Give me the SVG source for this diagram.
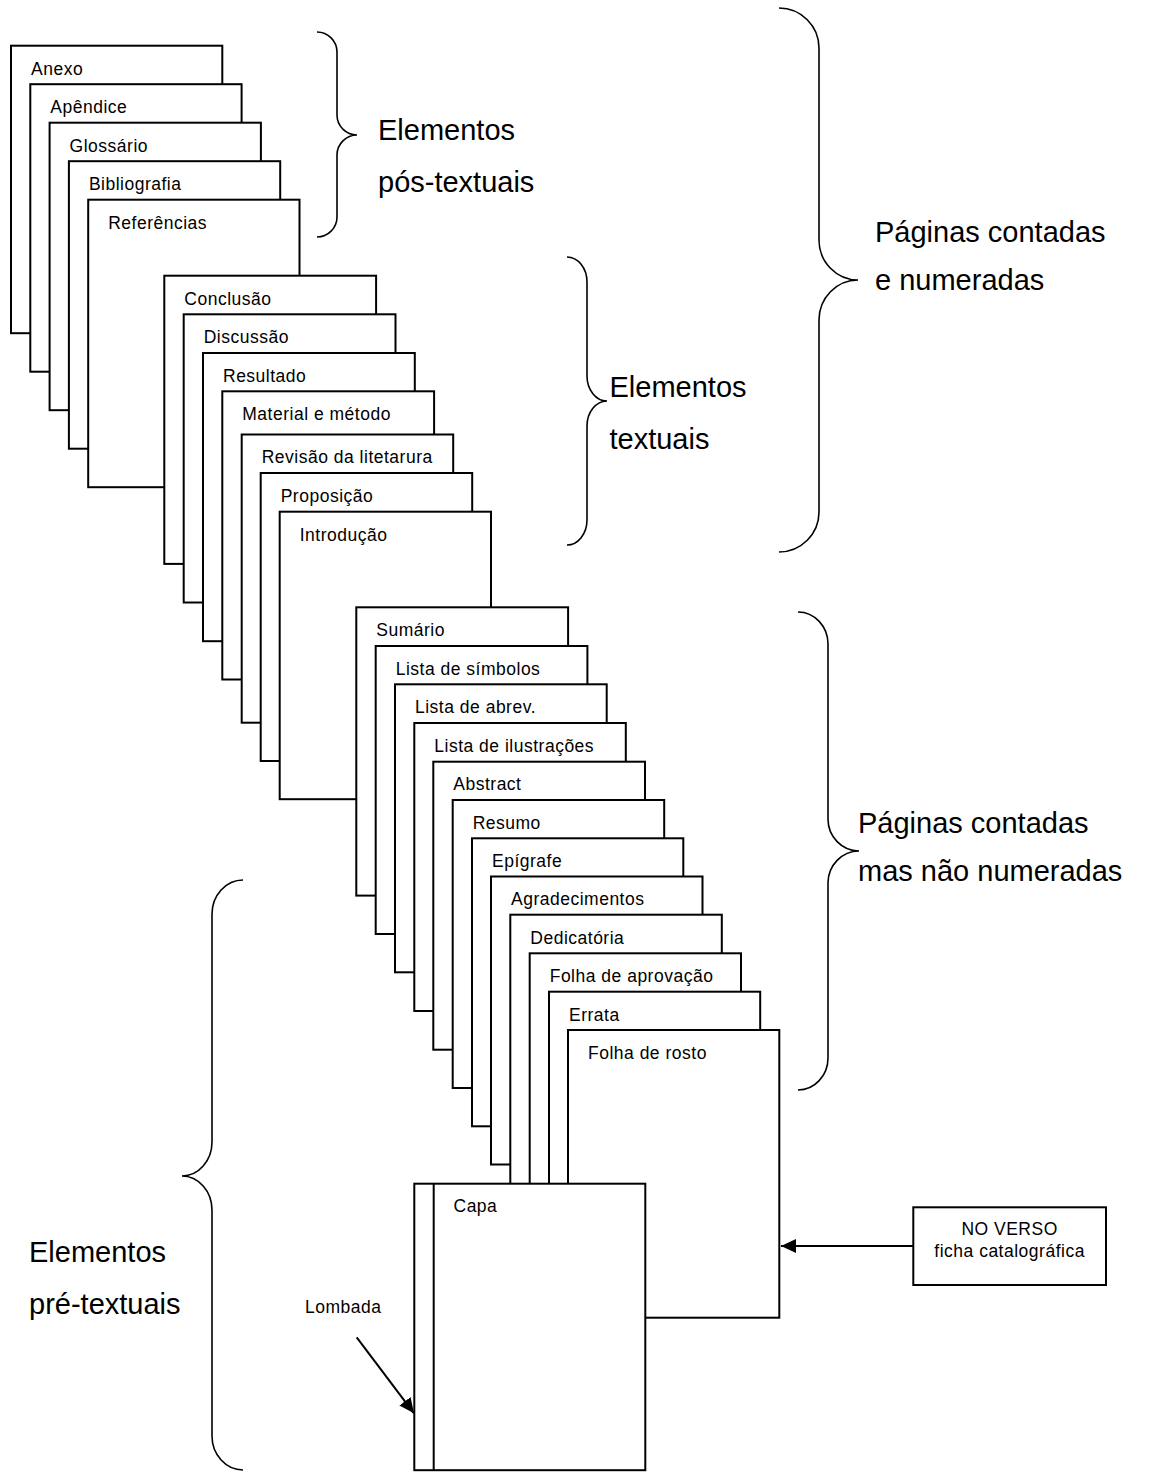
<svg xmlns="http://www.w3.org/2000/svg" width="1149" height="1472" viewBox="0 0 1149 1472">
<style>
.pg{fill:#fff;stroke:#000;stroke-width:2}
.lb{font-family:"Liberation Sans",Arial,Helvetica,sans-serif;font-size:17.5px;letter-spacing:0.5px;fill:#000}
.big{font-family:"Liberation Sans",Arial,Helvetica,sans-serif;font-size:29px;fill:#000}
.br{fill:none;stroke:#000;stroke-width:1.6}
.cn{fill:none;stroke:#000;stroke-width:2}
</style>
<defs>
<marker id="ah" markerUnits="userSpaceOnUse" markerWidth="16" markerHeight="14" refX="15" refY="7" orient="auto">
<path d="M0,0 L15,7 L0,14 z" fill="#000"/>
</marker>
</defs>
<rect width="1149" height="1472" fill="#fff"/>

<g id="anexo"><rect class="pg" x="11" y="45.7" width="211.3" height="287.5"/><text class="lb" x="31" y="74.5">Anexo</text></g>
<g id="apendice"><rect class="pg" x="30.3" y="84.2" width="211.3" height="287.5"/><text class="lb" x="50.3" y="113">Apêndice</text></g>
<g id="glossario"><rect class="pg" x="49.6" y="122.7" width="211.3" height="287.5"/><text class="lb" x="69.6" y="151.5">Glossário</text></g>
<g id="bibliografia"><rect class="pg" x="68.9" y="161.2" width="211.3" height="287.5"/><text class="lb" x="88.9" y="190">Bibliografia</text></g>
<g id="referencias"><rect class="pg" x="88.2" y="199.7" width="211.3" height="287.5"/><text class="lb" x="108.2" y="228.5">Referências</text></g>

<g id="conclusao"><rect class="pg" x="164.3" y="275.7" width="211.8" height="288.2"/><text class="lb" x="184.3" y="304.5">Conclusão</text></g>
<g id="discussao"><rect class="pg" x="183.7" y="314.3" width="211.8" height="288.2"/><text class="lb" x="203.7" y="343">Discussão</text></g>
<g id="resultado"><rect class="pg" x="203" y="353" width="211.8" height="288.2"/><text class="lb" x="223" y="381.8">Resultado</text></g>
<g id="material"><rect class="pg" x="222.3" y="391.3" width="211.8" height="288.2"/><text class="lb" x="242.3" y="420">Material e método</text></g>
<g id="revisao"><rect class="pg" x="241.7" y="434.5" width="211.5" height="288.2"/><text class="lb" x="261.7" y="463.2">Revisão da litetarura</text></g>
<g id="proposicao"><rect class="pg" x="260.7" y="473" width="211.5" height="288"/><text class="lb" x="280.7" y="501.8">Proposição</text></g>
<g id="introducao"><rect class="pg" x="279.7" y="511.7" width="211.3" height="287.5"/><text class="lb" x="299.7" y="540.5">Introdução</text></g>

<g id="sumario"><rect class="pg" x="356.3" y="607.3" width="211.8" height="288.3"/><text class="lb" x="376.3" y="636">Sumário</text></g>
<g id="lista-simbolos"><rect class="pg" x="375.7" y="646" width="211.7" height="288"/><text class="lb" x="395.7" y="674.8">Lista de símbolos</text></g>
<g id="lista-abrev"><rect class="pg" x="395" y="684.3" width="211.7" height="288"/><text class="lb" x="415" y="713">Lista de abrev.</text></g>
<g id="lista-ilustracoes"><rect class="pg" x="414.3" y="723" width="211.5" height="288"/><text class="lb" x="434.3" y="751.8">Lista de ilustrações</text></g>
<g id="abstract"><rect class="pg" x="433.3" y="761.7" width="211.7" height="288"/><text class="lb" x="453.3" y="790.4">Abstract</text></g>
<g id="resumo"><rect class="pg" x="452.7" y="800" width="211.5" height="288"/><text class="lb" x="472.7" y="828.8">Resumo</text></g>
<g id="epigrafe"><rect class="pg" x="472" y="838.3" width="211.3" height="288"/><text class="lb" x="492" y="867">Epígrafe</text></g>
<g id="agradecimentos"><rect class="pg" x="491" y="876.5" width="211.5" height="288"/><text class="lb" x="511" y="905.2">Agradecimentos</text></g>
<g id="dedicatoria"><rect class="pg" x="510.3" y="914.7" width="211.5" height="288"/><text class="lb" x="530.3" y="943.5">Dedicatória</text></g>
<g id="folha-aprovacao"><rect class="pg" x="529.7" y="953.3" width="211.3" height="288"/><text class="lb" x="549.7" y="982">Folha de aprovação</text></g>
<g id="errata"><rect class="pg" x="549" y="991.7" width="211.2" height="288"/><text class="lb" x="569" y="1020.5">Errata</text></g>
<g id="folha-rosto"><rect class="pg" x="568" y="1030" width="211.3" height="287.7"/><text class="lb" x="588" y="1058.8">Folha de rosto</text></g>

<g id="capa"><rect class="pg" x="414.3" y="1183.7" width="231" height="286.5"/><line class="cn" x1="433.7" y1="1183.7" x2="433.7" y2="1470.2"/><text class="lb" x="453.5" y="1212.4">Capa</text></g>

<g id="no-verso"><rect class="pg" x="913.3" y="1207.3" width="192.7" height="77.7"/><text class="lb" x="1009.6" y="1235" text-anchor="middle">NO VERSO</text><text class="lb" x="1009.6" y="1256.7" text-anchor="middle">ficha catalográfica</text></g>

<g id="lombada-label"><text class="lb" x="305" y="1312.7">Lombada</text></g>

<g id="connectors">
<line class="cn" x1="913.3" y1="1246" x2="781" y2="1246" marker-end="url(#ah)"/>
<line class="cn" x1="356.7" y1="1337.3" x2="414" y2="1413.3" marker-end="url(#ah)"/>
</g>

<g id="brace-pos">
<path class="br" d="M317,32 C328,32 337,41 337,52 L337,115 C337,126 346,135 357,135 C346,135 337,144 337,155 L337,217 C337,228 328,237 317,237"/>
<text class="big" x="378" y="139.5">Elementos</text><text class="big" x="378" y="192">pós-textuais</text>
</g>
<g id="brace-textuais">
<path class="br" d="M567,257 C578,257 587,268.25 587,282 L587,376 C587,389.75 596,401 607,401 C596,401 587,412.25 587,426 L587,520 C587,533.75 578,545 567,545"/>
<text class="big" x="609.5" y="397">Elementos</text><text class="big" x="609.5" y="449">textuais</text>
</g>
<g id="brace-numeradas">
<path class="br" d="M779,8 C801,8 819,26 819,48 L819,240 C819,262 836.5,280 858,280 C836.5,280 819,298 819,320 L819,512 C819,534 801,552 779,552"/>
<text class="big" x="875" y="242">Páginas contadas</text><text class="big" x="875" y="290">e numeradas</text>
</g>
<g id="brace-nao-numeradas">
<path class="br" d="M798,612 C814.5,612 828,626.4 828,644 L828,819 C828,836.6 842,851 859,851 C842,851 828,865.4 828,883 L828,1058 C828,1075.6 814.5,1090 798,1090"/>
<text class="big" x="858" y="833">Páginas contadas</text><text class="big" x="858" y="881">mas não numeradas</text>
</g>
<g id="brace-pre">
<path class="br" d="M243,880 C226,880 212,895.3 212,914 L212,1142 C212,1160.7 198.5,1176 182,1176 C198.5,1176 212,1191.3 212,1210 L212,1436 C212,1454.7 226,1470 243,1470"/>
<text class="big" x="29" y="1262">Elementos</text><text class="big" x="29" y="1314">pré-textuais</text>
</g>
</svg>
